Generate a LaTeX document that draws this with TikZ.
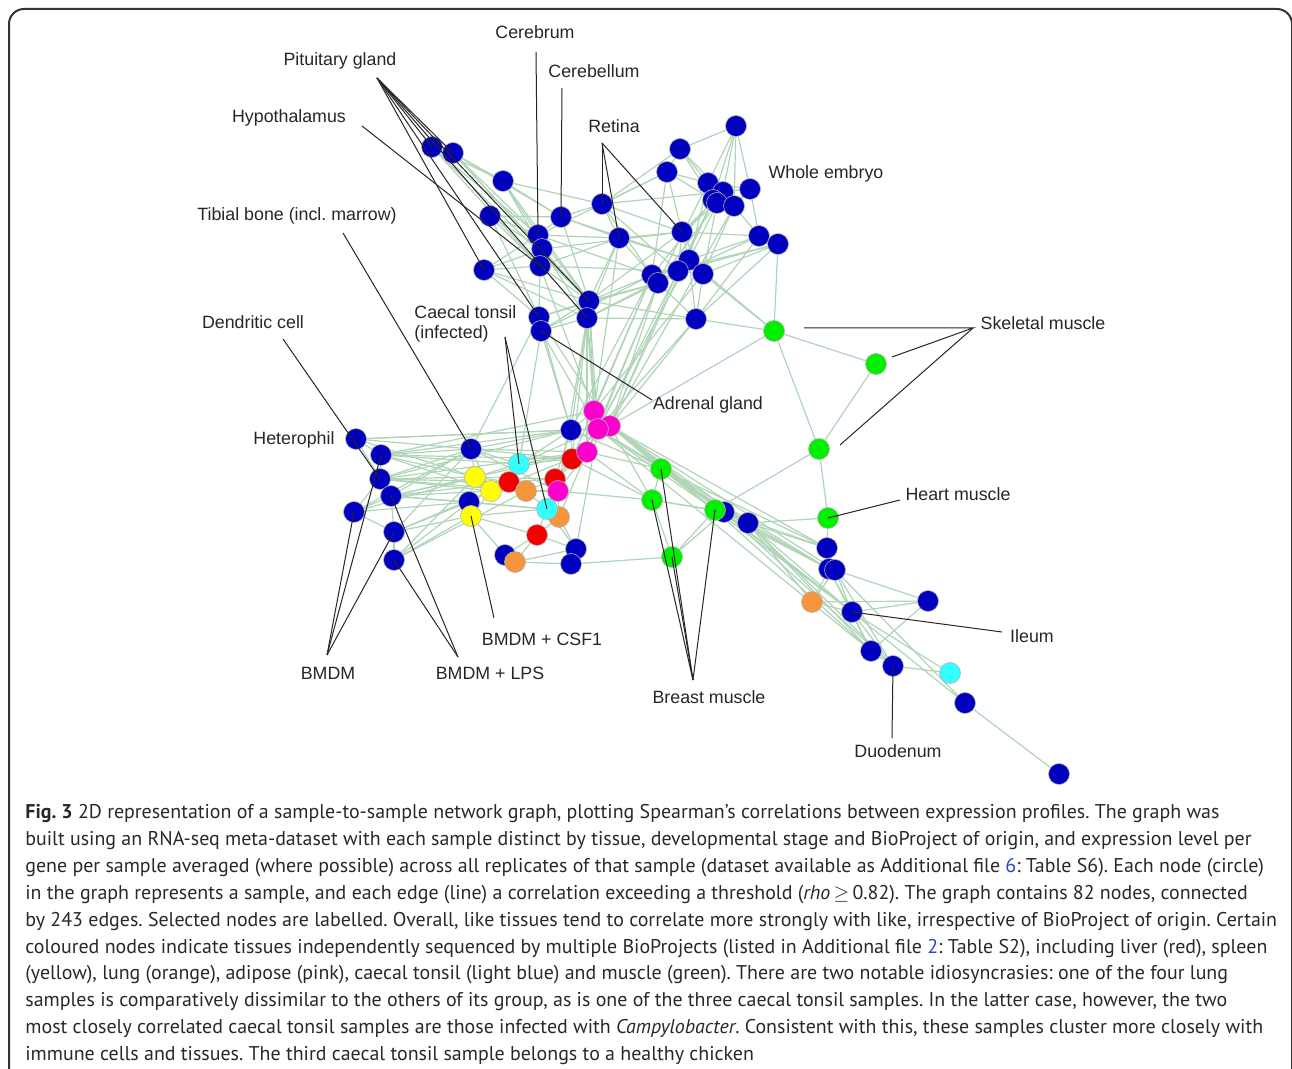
\documentclass[tikz,border=0pt]{standalone}
\usepackage{fontspec}
\setmainfont{PT Sans}
\newfontfamily\labelfont{Liberation Sans}
\usetikzlibrary{backgrounds}

\definecolor{nodeblue}{RGB}{0,0,190}
\definecolor{nodegreen}{RGB}{0,240,0}
\definecolor{nodeyellow}{RGB}{255,255,0}
\definecolor{nodered}{RGB}{240,0,0}
\definecolor{nodeorange}{RGB}{245,150,60}
\definecolor{nodepink}{RGB}{255,0,204}
\definecolor{nodecyan}{RGB}{50,255,255}
\definecolor{edgegreen}{RGB}{176,212,182}
\definecolor{linkblue}{RGB}{40,70,210}
\definecolor{captiongray}{RGB}{40,40,40}

\tikzset{
  smp/.style={circle,inner sep=0pt,minimum size=10.5pt,draw=black!30,line width=0.3pt},
  edge/.style={edgegreen,line width=0.6pt},
  lead/.style={black!85,line width=0.5pt},
  lbl/.style={font=\labelfont\fontsize{8.9}{10}\selectfont,text=black!85,inner sep=0pt},
  capt/.style={font=\fontsize{9.96}{13.45}\selectfont,text=captiongray,inner sep=0pt,align=left},
}

\begin{document}
\frenchspacing
\begin{tikzpicture}[x=0.5pt,y=-0.5pt]
  \useasboundingbox (0,0) rectangle (1292,1069);
  %% frame
  \draw[black!80,line width=1pt,rounded corners=7.5pt] (9,1090) -- (9,9) -- (1292,9) -- (1292,1090);

  %% samples
  \foreach \n/\x/\y/\col in {
      p1/432/147/blue, p2/453/153/blue, t1/503/181/blue, t2/490/216/blue,
      cb/561/217/blue, c1/538/235/blue, c2/542/249/blue, hy/540/266/blue,
      t3/484/270/blue, a1/589/301/blue, a2/587/318/blue, a3/539/317/blue,
      ad/541/331/blue, r1/602/204/blue, r2/619/238/blue, r3/682/232/blue,
      e1/680/149/blue, e2/667/172/blue, e3/736/126/blue, e4/708/183/blue,
      e5/723/192/blue, e6/713/200/blue, e7/717/203/blue, e8/734/206/blue,
      e9/750/189/blue, e10/759/236/blue, e11/778/244/blue,
      m1/652/275/blue, m2/658/283/blue, m3/689/260/blue, m4/678/271/blue,
      m5/703/274/blue, m6/696/319/blue,
      s1/774/331/green, s2/876/364/green, s3/819/449/green, h1/828/518/green,
      k1/724/512/blue, k2/748/523/blue, g1/661/469/green, g2/652/500/green,
      g3/715/510/green, g4/672/557/green,
      he/356/439/blue, d1/381/455/blue, d2/380/479/blue, d3/391/496/blue,
      d4/354/512/blue, d5/394/532/blue, d6/394/560/blue,
      tb/471/449/blue, b5/469/502/blue, y1/475/477/yellow, y2/491/491/yellow,
      y3/471/516/yellow, q1/519/464/cyan, rd1/509/482/red, o1/526/491/orange,
      b6/571/430/blue, rd2/572/459/red, rd3/555/479/red, pk1/558/491/pink,
      pk2/587/452/pink, pk3/594/411/pink, pk5/610/426/pink, pk4/598/429/pink,
      o2/559/517/orange, q2/547/509/cyan, rd4/537/535/red,
      b7/505/555/blue, o3/515/562/orange, b8/576/549/blue, b9/571/564/blue,
      u1/827/548/blue, u2/829/569/blue, u3/835/570/blue, o4/812/602/orange,
      u4/928/601/blue, il/852/612/blue, u5/871/651/blue, du/893/666/blue,
      q3/950/673/cyan, u6/965/703/blue, u7/1059/774/blue}
    \node[smp,fill=node\col] (\n) at (\x,\y) {};

  %% correlations
  \begin{scope}[on background layer]
    \foreach \a/\b in {
        p1/p2, p1/t1, p2/t1, p1/c1, p2/c1, p2/c2, p1/hy, p2/a1, p1/a1, p2/cb,
        t1/c1, t1/cb, t1/c2, t1/a1, t1/r1, t2/c1, t2/c2, t2/hy, t2/a3, t2/cb,
        t3/hy, t3/c2, t3/a3, t3/a1, t3/a2, t3/c1, c1/cb, c1/c2, c2/hy, hy/a3,
        a3/ad, a3/a1, ad/a2, c1/a1, c2/a2, cb/a1, cb/r1, cb/r2, c1/r1, c1/r2,
        hy/r2, a1/a2, a1/m1, a1/m2, a2/m2, a2/m4, ad/m1, a1/r2, a2/r2, r1/r2,
        r1/r3, r1/e2, r2/r3, r2/m1, r2/m3, r1/m4, cb/m3, c1/m1, a3/m2, hy/m4,
        c2/r3, hy/a1, ad/a1, c2/a1,
        e3/e1, e3/e4, e3/e5, e3/e6, e3/e8, e3/e9, e1/e2, e1/e4, e1/e5, e2/e4,
        e2/e6, e4/e5, e4/e6, e5/e7, e6/e8, e5/e9, e7/e8, e8/e9, e8/e10, e9/e10,
        e10/e11, e4/m3, e5/m3, e6/m4, e7/m5, e8/m5, e6/m1, e4/m2, e5/r3, e2/r3,
        e2/m1, e1/r1, e2/r1, e10/m3, e11/m5, e10/r3, e11/m4, r3/m3, r3/m4, r3/m5,
        r3/e7, m1/m2, m1/m4, m3/m4, m3/m5, m4/m5, m2/m6, m5/m6, m3/m6, e10/m6,
        e11/m6, m6/a2, m6/a1, r3/a1, m4/a2, e9/r1, e7/m2, e6/e7, e4/e9, e1/e6,
        e11/m1, e10/m2, r1/m1,
        a2/pk3, a2/pk4, a1/pk3, a1/pk4, ad/pk4, a3/pk5, m1/pk3, m2/pk4, m2/pk5,
        m4/pk5, m6/pk5, m6/pk4, a2/b6, ad/b6, m1/b6, a1/rd2, a2/pk2, m2/pk2,
        m4/pk2, hy/pk3, a3/b6, e6/pk5, r2/pk3, m3/pk4, e8/pk5, m5/pk3, a2/pk1,
        m1/rd2, a3/tb, ad/q1,
        m6/s1, m5/s1, m3/s1, e11/s1, s1/s2, s1/s3, s2/s3, s3/h1, s3/g3, pk5/s1,
        pk4/g1, pk5/g1, pk5/g2, pk4/g3, pk5/g3, pk5/k1, pk5/k2, pk2/g2, pk4/k2,
        pk5/u1, pk4/u2, pk5/il, pk3/g1, pk2/g1, rd2/g2, pk5/u3, pk4/u5, pk3/k1,
        pk1/g2, b6/g1,
        g1/g2, g1/g3, g2/g3, g2/g4, g3/g4, g1/k1, g3/k2, k1/k2, g2/k1, g1/k2,
        k1/g4, b9/g4,
        k2/u1, k2/u2, k2/il, k2/u5, k1/u1, k1/u2, k1/il, g3/u2, g3/il, g3/u5,
        k2/du, k1/du, h1/u1, h1/k2, u1/u2, u1/u3, u2/u3, u2/o4, u3/o4, u3/il,
        u3/u4, u2/il, o4/il, o4/u4, il/u4, il/u5, il/du, il/q3, u4/u5, u5/du,
        du/q3, il/u6, u3/u6, u6/u7, u2/u5, u3/du, k2/o4, g1/u1,
        he/d1, he/tb, he/y1, he/b6, he/d2, d1/tb, d1/y1, d1/y2, d1/q1, d1/b6,
        d1/d2, d1/rd2, d2/tb, d2/y1, d2/y2, d2/rd1, d2/o1, d2/pk2, d2/b6, d2/d3,
        d3/tb, d3/y1, d3/b5, d3/y2, d3/rd1, d3/q2, d3/d5, d3/pk2, d4/d2, d4/d3,
        d4/tb, d4/y1, d4/b5, d4/d5, d5/d6, d5/b5, d5/y2, d5/y3, d5/tb, d6/b5,
        d6/y1, d6/o1, d6/y3, he/pk4, d1/pk3,
        tb/y1, tb/y2, tb/q1, tb/b6, tb/pk2, tb/rd2, y1/y2, y1/b5, y1/q1, y1/rd1,
        y2/rd1, y2/o1, y2/q1, b5/y3, b5/y2, y3/y2, y3/b7, y3/q2, q1/rd1, q1/rd2,
        q1/pk2, q1/b6, rd1/o1, rd1/rd3, o1/rd3, o1/q2, o1/pk1, rd3/pk1, rd3/rd2,
        rd2/pk2, rd2/b6, pk1/q2, pk1/o2, q2/o2, q2/rd4, o2/rd4, rd4/b7, rd4/o3,
        rd4/b8, b7/o3, o3/b9, o3/b8, b8/b9, q2/b8, o2/b8, pk2/pk1, pk2/pk4,
        pk3/pk4, pk4/pk5, pk3/pk5, b6/pk4, b6/pk3, pk2/rd3, b6/rd3, o2/pk2,
        pk4/b8, y1/rd3, tb/pk1, y2/pk2, q1/pk4, rd2/pk4, rd3/pk4, b5/q2, y3/rd4}
      \draw[edge] (\a) -- (\b);
  \end{scope}

  %% labels
  \node[lbl] (cerebrum) at (535,32) {Cerebrum};
  \node[lbl] (pituitary) at (340,61) {Pituitary gland};
  \node[lbl] (cerebellum) at (594,71) {Cerebellum};
  \node[lbl] (hypothalamus) at (289,118) {Hypothalamus};
  \node[lbl] (retina) at (614,126) {Retina};
  \node[lbl] (embryo) at (826,174) {Whole embryo};
  \node[lbl] (tibial) at (297,216) {Tibial bone (incl. marrow)};
  \node[lbl] (dendritic) at (253,322) {Dendritic cell};
  \node[lbl,align=left,anchor=west] (caecal) at (414,324) {Caecal tonsil\\(infected)};
  \node[lbl] (skeletal) at (1043,323) {Skeletal muscle};
  \node[lbl] (adrenal) at (708,405) {Adrenal gland};
  \node[lbl] (heterophil) at (294,440) {Heterophil};
  \node[lbl] (heart) at (958,494) {Heart muscle};
  \node[lbl] (ileum) at (1032,636) {Ileum};
  \node[lbl] (csf) at (542,639) {BMDM + CSF1};
  \node[lbl] (bmdm) at (328,673) {BMDM};
  \node[lbl] (lps) at (490,673) {BMDM + LPS};
  \node[lbl] (breast) at (709,697) {Breast muscle};
  \node[lbl] (duodenum) at (898,751) {Duodenum};

  %% leader lines
  \coordinate (pitA) at (377,78);
  \coordinate (hypA) at (362,126);
  \coordinate (cerA) at (536,52);
  \coordinate (cblA) at (562,88);
  \coordinate (retA) at (602,143);
  \coordinate (tibA) at (343,233);
  \coordinate (denA) at (283,339);
  \coordinate (caeA) at (505,337);
  \coordinate (adrA) at (652,400);
  \coordinate (skeA) at (973,328);
  \coordinate (ske1) at (804,328);
  \coordinate (ske2) at (892,357);
  \coordinate (ske3) at (840,445);
  \coordinate (hrtA) at (900,500);
  \coordinate (ileA) at (1002,632);
  \coordinate (duoA) at (892,738);
  \coordinate (csfA) at (494,618);
  \coordinate (bmdA) at (327,655);
  \coordinate (lpsA) at (458,657);
  \coordinate (brsA) at (693,680);
  \foreach \t in {p1,p2,t3,a3,a1,a2}
    \draw[lead] (pitA) -- (\t.center);
  \draw[lead] (hypA) -- (hy.center);
  \draw[lead] (cerA) -- (c1.center);
  \draw[lead] (cblA) -- (cb.center);
  \foreach \t in {r1,r2,r3}
    \draw[lead] (retA) -- (\t.center);
  \draw[lead] (tibA) -- (tb.center);
  \draw[lead] (denA) -- (d2.center);
  \draw[lead] (caeA) -- (q1.center);
  \draw[lead] (caeA) -- (q2.center);
  \draw[lead] (adrA) -- (ad.center);
  \draw[lead] (ske1) -- (skeA) -- (ske2);
  \draw[lead] (skeA) -- (ske3);
  \draw[lead] (hrtA) -- (h1.center);
  \draw[lead] (ileA) -- (il.center);
  \draw[lead] (duoA) -- (du.center);
  \draw[lead] (csfA) -- (y3.center);
  \foreach \t in {d4,d1,d5}
    \draw[lead] (bmdA) -- (\t.center);
  \foreach \t in {d3,d6}
    \draw[lead] (lpsA) -- (\t.center);
  \foreach \t in {g1,g2,g4,g3}
    \draw[lead] (brsA) -- (\t.center);

  %% caption
  \node[capt,anchor=north west] (caption) at (25,804) {\textbf{Fig. 3} 2D representation of a sample-to-sample network graph, plotting Spearman’s correlations between expression profiles. The graph was\\
built using an RNA-seq meta-dataset with each sample distinct by tissue, developmental stage and BioProject of origin, and expression level per\\
gene per sample averaged (where possible) across all replicates of that sample (dataset available as Additional file \textcolor{linkblue}{6}: Table S6). Each node (circle)\\
in the graph represents a sample, and each edge (line) a correlation exceeding a threshold (\textit{rho}\,$\geq$\,0.82). The graph contains 82 nodes, connected\\
by 243 edges. Selected nodes are labelled. Overall, like tissues tend to correlate more strongly with like, irrespective of BioProject of origin. Certain\\
coloured nodes indicate tissues independently sequenced by multiple BioProjects (listed in Additional file \textcolor{linkblue}{2}: Table S2), including liver (red), spleen\\
(yellow), lung (orange), adipose (pink), caecal tonsil (light blue) and muscle (green). There are two notable idiosyncrasies: one of the four lung\\
samples is comparatively dissimilar to the others of its group, as is one of the three caecal tonsil samples. In the latter case, however, the two\\
most closely correlated caecal tonsil samples are those infected with \textit{Campylobacter}. Consistent with this, these samples cluster more closely with\\
immune cells and tissues. The third caecal tonsil sample belongs to a healthy chicken};
\end{tikzpicture}
\end{document}
